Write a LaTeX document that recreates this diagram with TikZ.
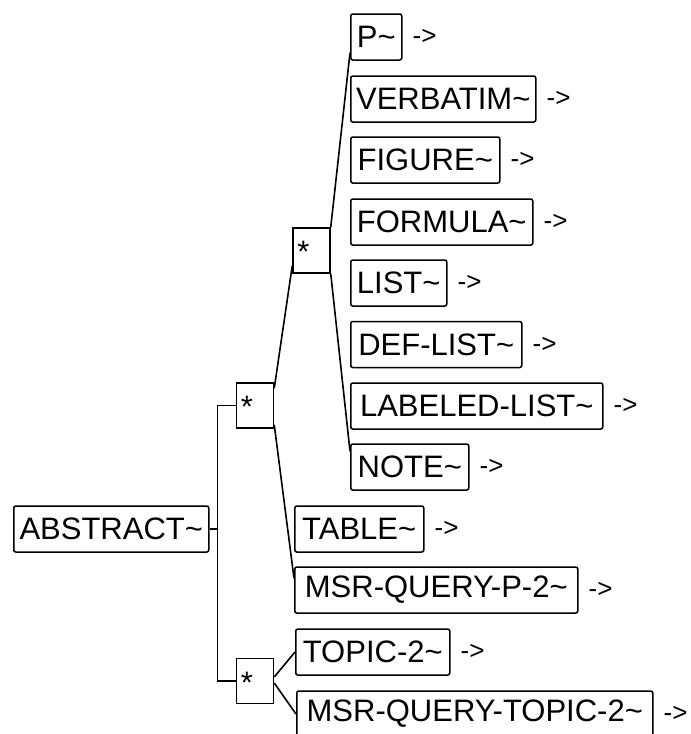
\documentclass[tikz,border=0pt]{standalone}
\usepackage{fontspec}
\setmainfont{Liberation Sans}
\tikzset{
  elem/.style={draw, line width=1.5, rounded corners=2, minimum height=46, inner xsep=4, inner ysep=0, anchor=west, font=\fontsize{31}{31}\selectfont},
  starbox/.style={draw, line width=1.5, minimum width=37, minimum height=45, inner sep=0},
  startext/.style={inner sep=0, anchor=north west, font=\fontsize{31}{31}\selectfont},
  arr/.style={inner sep=0, anchor=west, font=\fontsize{26}{26}\selectfont},
  conn/.style={line width=1.6}
}
\begin{document}
\begin{tikzpicture}[x=1pt,y=-1pt]
\useasboundingbox (0,0) rectangle (691,734);
% level 3 children
\node[elem, minimum width=51]  (p)    at (350,37)  {P\textasciitilde};
\node[elem, minimum width=185] (verb) at (350,99)  {VERBATIM\textasciitilde};
\node[elem, minimum width=149] (fig)  at (350,160) {FIGURE\textasciitilde};
\node[elem, minimum width=182] (form) at (350,222) {FORMULA\textasciitilde};
\node[elem, minimum width=96]  (list) at (350,283) {LIST\textasciitilde};
\node[elem, minimum width=171] (def)  at (350,344.5) {DEF-LIST\textasciitilde};
\node[elem, minimum width=252] (lab)  at (350,406) {LABELED-LIST\textasciitilde};
\node[elem, minimum width=118] (note) at (350,467) {NOTE\textasciitilde};
% level 2 children
\node[elem, minimum width=129] (table) at (294,529) {TABLE\textasciitilde};
\node[elem, minimum width=283] (mqp)   at (294,590) {MSR-QUERY-P-2\textasciitilde};
\node[elem, minimum width=154] (topic) at (295,652) {TOPIC-2\textasciitilde};
\node[elem, minimum width=356] (mqt)   at (296,714) {MSR-QUERY-TOPIC-2\textasciitilde};
% root
\node[elem, minimum width=195] (abs) at (13,529) {ABSTRACT\textasciitilde};
% star groups
\node[starbox] (s0) at (311.5,250.5) {};
\node[startext] (s0t) at ([shift={(5,14)}]s0.north west) {*};
\node[starbox] (s1) at (255,405.5) {};
\node[startext] (s1t) at ([shift={(5,14)}]s1.north west) {*};
\node[starbox] (s2) at (255,681) {};
\node[startext] (s2t) at ([shift={(5,14)}]s2.north west) {*};
% arrows text
\foreach \n in {p,verb,fig,form,list,def,lab,note,table,mqp,topic,mqt}
  \node[arr] (\n a) at ([xshift=10]\n.east) {->};
% connectors
\draw[conn] (abs.east) -- ++(8,0) |- (s1.west);
\draw[conn] (abs.east) -- ++(8,0) |- (s2.west);
\draw[conn] ([yshift=-6]s1.north east) -- ([yshift=8]s0.south west);
\draw[conn] ([yshift=4]s1.south east) -- ([yshift=-12]mqp.north west);
\draw[conn] (s0.north east) -- ([yshift=8]p.south west);
\draw[conn] (s0.south east) -- ([yshift=-8]note.north west);
\draw[conn] ([yshift=4]s2.east) -- (topic.west);
\draw[conn] ([yshift=-2]s2.east) -- (mqt.west);
\end{tikzpicture}
\end{document}
